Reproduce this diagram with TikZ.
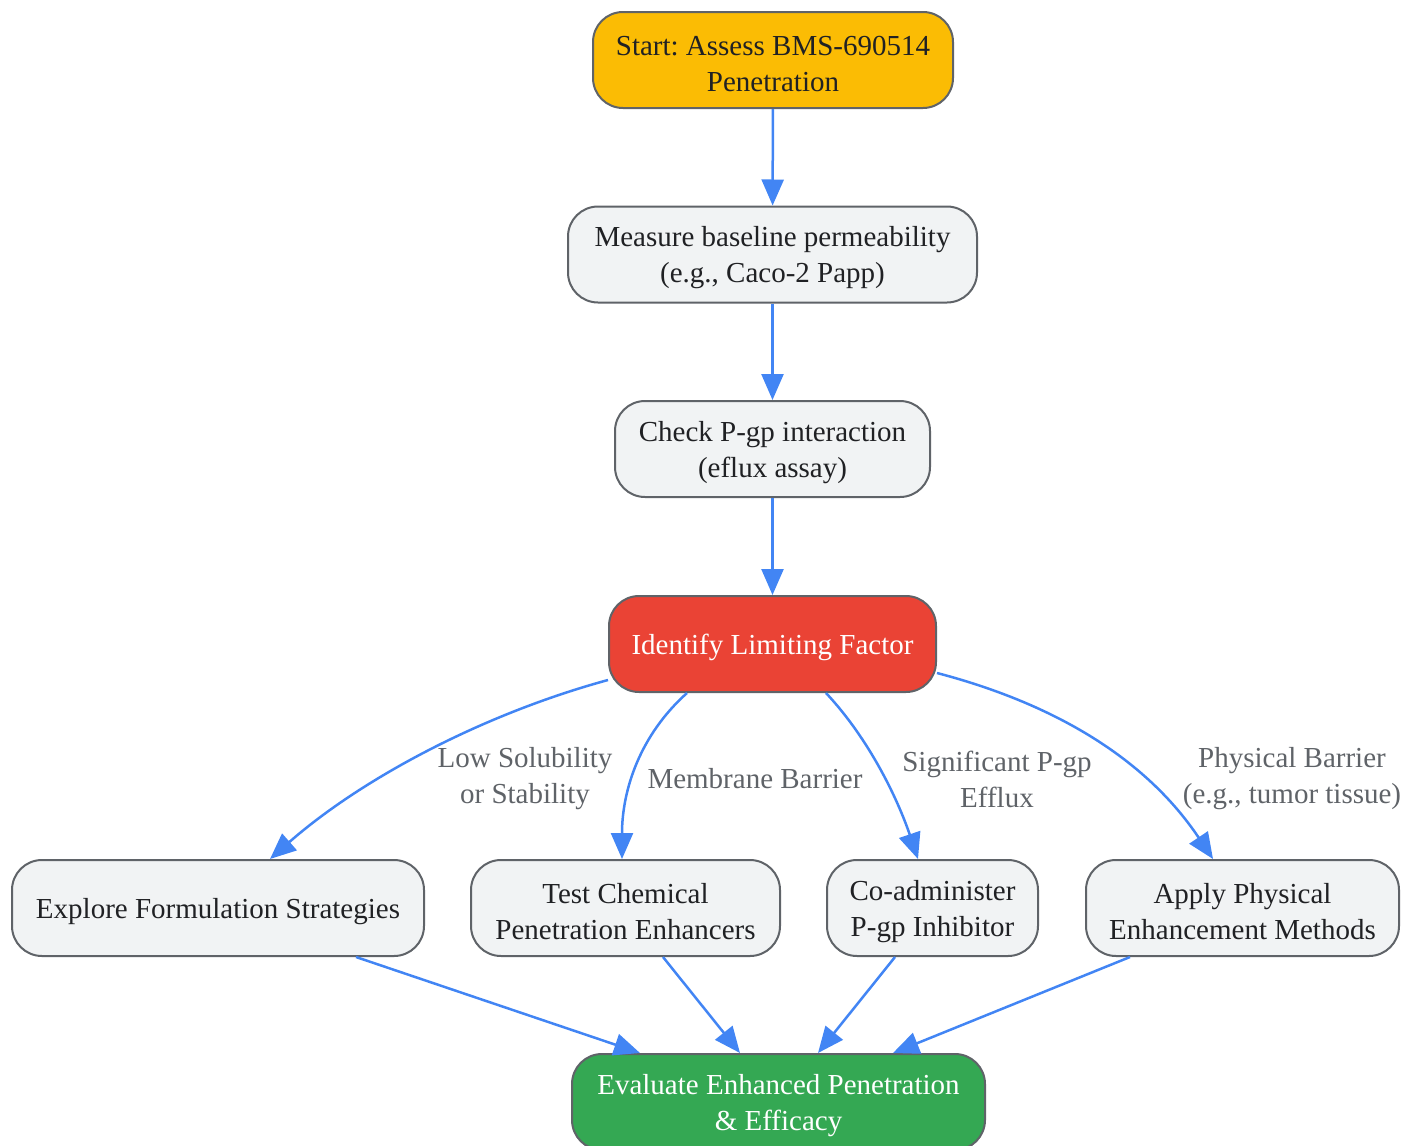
\documentclass[tikz,border=0pt]{standalone}
\usepackage{fontspec}
\setmainfont{Liberation Serif}
\usetikzlibrary{arrows.meta}
\definecolor{nodefill}{HTML}{F1F3F4}
\definecolor{nodeline}{HTML}{5F6368}
\definecolor{txt}{HTML}{202124}
\definecolor{yel}{HTML}{FBBC04}
\definecolor{redc}{HTML}{EA4335}
\definecolor{grn}{HTML}{34A853}
\definecolor{edge}{HTML}{4285F4}
\definecolor{lbl}{HTML}{5F6368}
\newcommand{\topstrut}{\rule{0pt}{27pt}}
\tikzset{
  box/.style={draw=nodeline, line width=2pt, fill=nodefill, rounded corners=30pt,
    minimum height=96pt, inner sep=0pt, align=center, text=txt,
    font=\fontsize{29}{36}\selectfont\frenchspacing},
  flow/.style={draw=edge, line width=2.5pt, -{Triangle[length=26pt,width=22pt]}},
  elabel/.style={text=lbl, align=center, font=\fontsize{29}{36}\selectfont, inner sep=0pt}
}
\begin{document}
\begin{tikzpicture}[x=1pt,y=-1pt]
\useasboundingbox (0,0) rectangle (1406,1146);
\node[box, fill=yel, minimum width=360pt] (start) at (773,60) {\topstrut Start: Assess BMS-690514\\Penetration};
\node[box, minimum width=409pt] (meas) at (772.5,254.5) {\topstrut Measure baseline permeability\\(e.g., Caco-2 Papp)};
\node[box, minimum width=315pt] (chk) at (772.5,449) {\topstrut Check P-gp interaction\\(eflux assay)};
\node[box, fill=redc, text=white, minimum width=327pt] (idf) at (772.5,644) {\topstrut Identify Limiting Factor};
\node[box, minimum width=412pt] (exp) at (218,908) {\topstrut Explore Formulation Strategies};
\node[box, minimum width=309pt] (tst) at (625.5,908) {\topstrut Test Chemical\\Penetration Enhancers};
\node[box, minimum width=211pt] (co) at (932.5,908) {\topstrut Co-administer\\P-gp Inhibitor};
\node[box, minimum width=313pt] (app) at (1242.5,908) {\topstrut Apply Physical\\Enhancement Methods};
\node[box, fill=grn, text=white, minimum width=413pt] (ev) at (778.5,1102) {\topstrut Evaluate Enhanced Penetration\\\& Efficacy};

\draw[flow] (start) -- (meas);
\draw[flow] (meas) -- (chk);
\draw[flow] (chk) -- (idf);

\draw[flow] ([yshift=-36pt]idf.west) .. controls (480,715) and (360,780) .. ([xshift=52pt]exp.north);
\draw[flow] ([xshift=-85.5pt]idf.south) .. controls (640,735) and (622,790) .. ([xshift=-3.5pt]tst.north);
\draw[flow] ([xshift=53.5pt]idf.south) .. controls (870,740) and (898,800) .. ([xshift=-14.5pt]co.north);
\draw[flow] ([yshift=-29pt]idf.east) .. controls (1040,700) and (1140,750) .. ([xshift=-29.5pt]app.north);

\node[elabel] (l1) at (525,779) {Low Solubility\\or Stability};
\node[elabel] (l2) at (755,779) {Membrane Barrier};
\node[elabel] (l3) at (997,779) {Significant P-gp\\Efflux};
\node[elabel] (l4) at (1292,779) {Physical Barrier\\(e.g., tumor tissue)};

\draw[flow] ([xshift=138pt]exp.south) -- ([xshift=-138.5pt]ev.north);
\draw[flow] ([xshift=37.5pt]tst.south) -- ([xshift=-38.5pt]ev.north);
\draw[flow] ([xshift=-37.5pt]co.south) -- ([xshift=39.5pt]ev.north);
\draw[flow] ([xshift=-112.5pt]app.south) -- ([xshift=114.5pt]ev.north);
\end{tikzpicture}
\end{document}
